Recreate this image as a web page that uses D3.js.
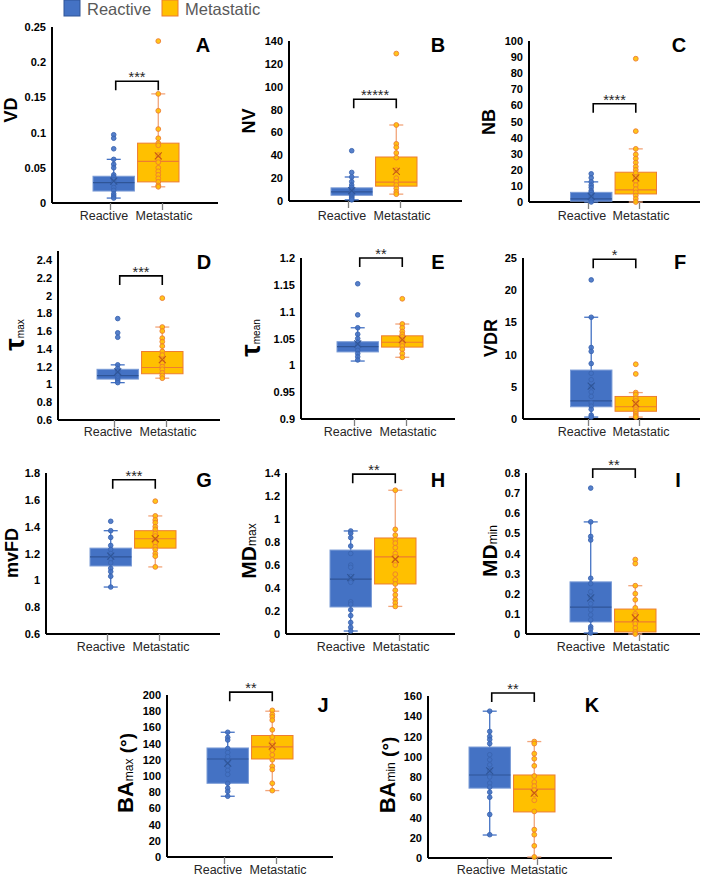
<!DOCTYPE html>
<html><head><meta charset="utf-8">
<script src="https://cdn.jsdelivr.net/npm/d3@7"></script>
<style>body{margin:0;background:#fff}svg{display:block}</style>
</head><body><svg id="c" width="708" height="876"></svg>
<script>
// ---------- DATA ----------
const categories = ["Reactive", "Metastatic"];
const legendLabels = ["Reactive", "Metastatic"];
// stats arrays: [whiskerLow, q1, median, q3, whiskerHigh, mean]
const vdReactiveStats = [0.007, 0.017, 0.029, 0.038, 0.062, 0.031];
const vdMetastaticStats = [0.023, 0.030, 0.059, 0.085, 0.155, 0.067];
const vdReactivePoints = [0.097, 0.092, 0.077, 0.062, 0.055, 0.05, 0.04, 0.037, 0.033, 0.03, 0.027, 0.022, 0.018, 0.013, 0.01, 0.007];
const vdMetastaticPoints = [0.23, 0.155, 0.131, 0.105, 0.092, 0.085, 0.082, 0.068, 0.062, 0.058, 0.05, 0.045, 0.04, 0.035, 0.03, 0.025, 0.023];
const vdTicks = [0, 0.05, 0.1, 0.15, 0.2, 0.25];

const nvReactiveStats = [1, 5, 8, 11.5, 21, 9];
const nvMetastaticStats = [6, 13, 16.5, 38.5, 66.5, 26];
const nvReactivePoints = [44, 25, 21, 17, 14, 12, 10, 9, 8, 7, 6, 5, 4, 3, 2, 1];
const nvMetastaticPoints = [129, 66.5, 50, 47, 42, 38, 27, 20, 17, 14, 11, 8, 6];
const nvTicks = [0, 20, 40, 60, 80, 100, 120, 140];

const nbReactiveStats = [0, 0.5, 2, 6, 12.5, 3.5];
const nbMetastaticStats = [0, 5, 7.5, 18.5, 33, 15];
const nbReactivePoints = [17.5, 15, 12.5, 10.5, 9, 7, 6, 4.5, 3, 2, 1, 0];
const nbMetastaticPoints = [89, 44, 33, 29.5, 27, 24.5, 22, 20, 18, 15.5, 13, 10.5, 8, 6, 4, 2, 0];
const nbTicks = [0, 10, 20, 30, 40, 50, 60, 70, 80, 90, 100];

const tmaxReactiveStats = [1.02, 1.06, 1.1, 1.17, 1.22, 1.14];
const tmaxMetastaticStats = [1.07, 1.12, 1.19, 1.37, 1.645, 1.28];
const tmaxReactivePoints = [1.74, 1.58, 1.53, 1.22, 1.18, 1.15, 1.12, 1.1, 1.08, 1.06, 1.04, 1.02];
const tmaxMetastaticPoints = [1.97, 1.645, 1.6, 1.52, 1.48, 1.43, 1.37, 1.33, 1.28, 1.24, 1.2, 1.17, 1.13, 1.1, 1.07];
const tmaxTicks = [0.6, 0.8, 1, 1.2, 1.4, 1.6, 1.8, 2, 2.2, 2.4];

const tmeanReactiveStats = [1.008, 1.025, 1.035, 1.044, 1.07, 1.04];
const tmeanMetastaticStats = [1.015, 1.034, 1.043, 1.055, 1.077, 1.048];
const tmeanReactivePoints = [1.152, 1.094, 1.07, 1.058, 1.05, 1.043, 1.038, 1.033, 1.028, 1.022, 1.016, 1.01];
const tmeanMetastaticPoints = [1.124, 1.077, 1.07, 1.063, 1.058, 1.053, 1.048, 1.044, 1.04, 1.036, 1.03, 1.022, 1.015];
const tmeanTicks = [0.9, 0.95, 1, 1.05, 1.1, 1.15, 1.2];

const vdrReactiveStats = [0.3, 1.9, 2.8, 7.6, 15.8, 5.1];
const vdrMetastaticStats = [0.3, 1.2, 1.9, 3.5, 4.1, 2.4];
const vdrReactivePoints = [21.6, 15.8, 11.1, 10.5, 8.6, 7.1, 6.1, 5.0, 4.2, 3.5, 2.5, 2.0, 1.5, 0.6, 0.3];
const vdrMetastaticPoints = [8.5, 7.0, 4.1, 3.8, 3.2, 2.8, 2.4, 2.0, 1.7, 1.4, 1.1, 0.8, 0.5, 0.3];
const vdrTicks = [0, 5, 10, 15, 20, 25];

const mvfdReactiveStats = [0.95, 1.107, 1.175, 1.24, 1.37, 1.18];
const mvfdMetastaticStats = [1.1, 1.24, 1.31, 1.37, 1.48, 1.31];
const mvfdReactivePoints = [1.44, 1.37, 1.32, 1.26, 1.23, 1.2, 1.18, 1.16, 1.13, 1.09, 1.065, 1.03, 0.95];
const mvfdMetastaticPoints = [1.59, 1.48, 1.45, 1.43, 1.4, 1.38, 1.35, 1.33, 1.3, 1.28, 1.25, 1.23, 1.2, 1.18, 1.1];
const mvfdTicks = [0.6, 0.8, 1, 1.2, 1.4, 1.6, 1.8];

const mdmaxReactiveStats = [0.026, 0.235, 0.478, 0.73, 0.896, 0.49];
const mdmaxMetastaticStats = [0.24, 0.435, 0.67, 0.835, 1.25, 0.65];
const mdmaxReactivePoints = [0.896, 0.876, 0.838, 0.765, 0.7, 0.6, 0.58, 0.5, 0.47, 0.45, 0.28, 0.26, 0.21, 0.16, 0.1, 0.058, 0.026];
const mdmaxMetastaticPoints = [1.25, 0.91, 0.86, 0.82, 0.79, 0.75, 0.7, 0.67, 0.63, 0.6, 0.52, 0.47, 0.435, 0.38, 0.34, 0.3, 0.27, 0.24];
const mdmaxTicks = [0, 0.2, 0.4, 0.6, 0.8, 1, 1.2, 1.4];

const mdminReactiveStats = [0.005, 0.06, 0.134, 0.259, 0.557, 0.18];
const mdminMetastaticStats = [0, 0.01, 0.06, 0.124, 0.24, 0.08];
const mdminReactivePoints = [0.725, 0.557, 0.485, 0.467, 0.277, 0.25, 0.21, 0.185, 0.15, 0.12, 0.095, 0.07, 0.036, 0.025, 0.005];
const mdminMetastaticPoints = [0.37, 0.35, 0.24, 0.2, 0.17, 0.13, 0.1, 0.09, 0.07, 0.05, 0.03, 0.01, 0];
const mdminTicks = [0, 0.1, 0.2, 0.3, 0.4, 0.5, 0.6, 0.7, 0.8];

const bamaxReactiveStats = [75, 91, 121, 134.6, 154, 116];
const bamaxMetastaticStats = [82, 121, 136, 150, 180, 137];
const bamaxReactivePoints = [154, 147.7, 144.4, 134, 129, 124, 118, 112, 107, 102, 91, 85, 81, 75];
const bamaxMetastaticPoints = [181, 176, 173, 169, 157, 148, 142, 137, 132, 126, 120, 112, 108, 91, 82];
const bamaxTicks = [0, 20, 40, 60, 80, 100, 120, 140, 160, 180, 200];

const baminReactiveStats = [22.7, 69, 82, 109.6, 145, 86];
const baminMetastaticStats = [1, 45.5, 68, 82, 115, 64];
const baminReactivePoints = [145, 125, 120, 117, 113, 102, 97, 92, 86, 80, 74, 70, 65, 60, 43, 23];
const baminMetastaticPoints = [115, 113, 103, 98, 91, 81, 75, 71, 67, 63, 57, 46, 28, 23, 12, 1];
const baminTicks = [0, 20, 40, 60, 80, 100, 120, 140, 160];

const panelLetters = ["A", "B", "C", "D", "E", "F", "G", "H", "I", "J", "K"];
const significance = ["***", "*****", "****", "***", "**", "*", "***", "**", "**", "**", "**"];
const bracketLevels = [0.173, 89, 61, 2.22, 1.2, 24.8, 1.75, 1.39, 0.82, 203.5, 163];
const axisMax = [0.25, 140, 100, 2.5, 1.2, 25, 1.8, 1.4, 0.8, 200, 160];

// ---------- LAYOUT (pixel geometry only) ----------
const layout = [
  {x0: 52,  x1: 218, yB: 203, yT: 27,  tR: 110, tM: 162, ly: 220, lx: 203, lty: 52,  tx: 17,  tyc: 110},
  {x0: 289, x1: 462, yB: 201, yT: 41,  tR: 348, tM: 400, ly: 220, lx: 438, lty: 52,  tx: 255, tyc: 121},
  {x0: 529, x1: 700, yB: 202, yT: 41,  tR: 588, tM: 639, ly: 220, lx: 679, lty: 52,  tx: 495, tyc: 122},
  {x0: 58,  x1: 220, yB: 420, yT: 251, tR: 114, tM: 166, ly: 436, lx: 204, lty: 269, tx: 24,  tyc: 335},
  {x0: 301, x1: 455, yB: 419, yT: 258, tR: 354, tM: 406, ly: 436, lx: 438, lty: 269, tx: 260, tyc: 338},
  {x0: 523, x1: 700, yB: 419, yT: 258, tR: 588, tM: 639, ly: 436, lx: 680, lty: 269, tx: 497, tyc: 338},
  {x0: 46,  x1: 220, yB: 634, yT: 473, tR: 107, tM: 159, ly: 651, lx: 204, lty: 487, tx: 18,  tyc: 553},
  {x0: 286, x1: 455, yB: 634, yT: 473, tR: 347, tM: 399, ly: 651, lx: 438, lty: 487, tx: 256, tyc: 551},
  {x0: 526, x1: 700, yB: 634, yT: 473, tR: 587, tM: 639, ly: 651, lx: 678, lty: 487, tx: 497, tyc: 551},
  {x0: 167, x1: 333, yB: 857, yT: 695, tR: 224, tM: 276, ly: 874, lx: 323, lty: 712, tx: 133, tyc: 773},
  {x0: 428, x1: 612, yB: 858, yT: 696, tR: 487, tM: 537, ly: 874, lx: 592, lty: 712, tx: 395, tyc: 775}
];

const titles = [
  [{t: "VD", s: 18, b: 1}],
  [{t: "NV", s: 18, b: 1}],
  [{t: "NB", s: 18, b: 1}],
  [{t: "τ", s: 28, b: 1}, {t: "max", s: 10, b: 0}],
  [{t: "τ", s: 28, b: 1}, {t: "mean", s: 10, b: 0}],
  [{t: "VDR", s: 18, b: 1}],
  [{t: "mvFD", s: 18, b: 1}],
  [{t: "MD", s: 21, b: 1}, {t: "max", s: 12, b: 0}],
  [{t: "MD", s: 21, b: 1}, {t: "min", s: 12, b: 0}],
  [{t: "BA", s: 22, b: 1}, {t: "max", s: 12, b: 0}, {t: " (°)", s: 19, b: 1}],
  [{t: "BA", s: 22, b: 1}, {t: "min", s: 12, b: 0}, {t: " (°)", s: 19, b: 1}]
];

const statsList = [
  [vdReactiveStats, vdMetastaticStats], [nvReactiveStats, nvMetastaticStats], [nbReactiveStats, nbMetastaticStats],
  [tmaxReactiveStats, tmaxMetastaticStats], [tmeanReactiveStats, tmeanMetastaticStats], [vdrReactiveStats, vdrMetastaticStats],
  [mvfdReactiveStats, mvfdMetastaticStats], [mdmaxReactiveStats, mdmaxMetastaticStats], [mdminReactiveStats, mdminMetastaticStats],
  [bamaxReactiveStats, bamaxMetastaticStats], [baminReactiveStats, baminMetastaticStats]
];
const pointsList = [
  [vdReactivePoints, vdMetastaticPoints], [nvReactivePoints, nvMetastaticPoints], [nbReactivePoints, nbMetastaticPoints],
  [tmaxReactivePoints, tmaxMetastaticPoints], [tmeanReactivePoints, tmeanMetastaticPoints], [vdrReactivePoints, vdrMetastaticPoints],
  [mvfdReactivePoints, mvfdMetastaticPoints], [mdmaxReactivePoints, mdmaxMetastaticPoints], [mdminReactivePoints, mdminMetastaticPoints],
  [bamaxReactivePoints, bamaxMetastaticPoints], [baminReactivePoints, baminMetastaticPoints]
];
const ticksList = [vdTicks, nvTicks, nbTicks, tmaxTicks, tmeanTicks, vdrTicks, mvfdTicks, mdmaxTicks, mdminTicks, bamaxTicks, baminTicks];

const style = {
  Reactive:   {fill: "#4472C4", stroke: "#7A9BD6", median: "#2F5597", whisker: "#4472C4", pt: "#4472C4", ptStroke: "#3A64B0"},
  Metastatic: {fill: "#FFC000", stroke: "#ED7D31", median: "#ED7D31", whisker: "#F2A57A", pt: "#FFC000", ptStroke: "#ED7D31"}
};
const FONT = "'Liberation Sans', Arial, sans-serif";

const svg = d3.select("#c").attr("font-family", FONT);

// Legend
const legend = svg.append("g");
const legX = [64, 162];
legendLabels.forEach((lab, i) => {
  const st = style[categories[i]];
  legend.append("rect").attr("x", legX[i]).attr("y", 0).attr("width", 16).attr("height", 16)
    .attr("fill", st.fill).attr("stroke", i ? "#ED7D31" : "#2F5597").attr("stroke-width", 1);
  legend.append("text").attr("x", legX[i] + 23).attr("y", 15).attr("font-size", 16.5)
    .attr("fill", "#595959").text(lab);
});

panelLetters.forEach((letter, p) => {
  const L = layout[p];
  const ticks = ticksList[p];
  const g = svg.append("g");
  const y = d3.scaleLinear().domain([ticks[0], axisMax[p]]).range([L.yB, L.yT]);
  const xCat = d3.scalePoint().domain(categories).range([L.tR, L.tM]);
  const mid = (L.tR + L.tM) / 2;
  const xBox = d3.scaleBand().domain(categories).range([mid - 43, mid + 43]).paddingInner(0.07);
  const bw = xBox.bandwidth();

  // y axis ticks labels
  const yAxis = d3.axisLeft(y).tickValues(ticks).tickSize(0).tickPadding(6).tickFormat(d3.format("~g"));
  const ya = g.append("g").attr("transform", `translate(${L.x0},0)`).call(yAxis);
  ya.select(".domain").remove();
  ya.selectAll("text").attr("font-family", FONT).attr("font-size", 11).attr("font-weight", "bold").attr("fill", "#000");

  // axis lines
  g.append("line").attr("x1", L.x0).attr("x2", L.x0).attr("y1", y.range()[1]).attr("y2", L.yB)
    .attr("stroke", "#000").attr("stroke-width", 2);
  g.append("line").attr("x1", L.x0).attr("x2", L.x1).attr("y1", L.yB).attr("y2", L.yB)
    .attr("stroke", "#000").attr("stroke-width", 2);

  // category ticks
  const xa = g.append("g").attr("transform", `translate(0,${L.yB})`)
    .call(d3.axisBottom(xCat).tickSize(7).tickFormat(""));
  xa.select(".domain").remove();
  xa.selectAll("line").attr("stroke", "#7f7f7f").attr("stroke-width", 1.3);
  categories.forEach((c, i) => {
    g.append("text").attr("x", xCat(c) + (i ? 2 : -6)).attr("y", L.ly).attr("text-anchor", "middle")
      .attr("font-size", 12.5).attr("fill", "#262626").text(c);
  });

  // boxes
  categories.forEach((c, i) => {
    const st = style[c];
    const [wl, q1, med, q3, wh, mean] = statsList[p][i];
    const cx = xBox(c) + bw / 2;
    const bg = g.append("g");
    bg.append("line").attr("x1", cx).attr("x2", cx).attr("y1", y(wl)).attr("y2", y(wh))
      .attr("stroke", st.whisker).attr("stroke-width", 1.3);
    [wl, wh].forEach(v => bg.append("line").attr("x1", cx - 7).attr("x2", cx + 7).attr("y1", y(v)).attr("y2", y(v))
      .attr("stroke", st.whisker).attr("stroke-width", 1.3));
    bg.append("rect").attr("x", xBox(c)).attr("y", y(q3)).attr("width", bw).attr("height", Math.max(0.5, y(q1) - y(q3)))
      .attr("fill", st.fill).attr("stroke", st.stroke).attr("stroke-width", 1);
    bg.append("line").attr("x1", xBox(c)).attr("x2", xBox(c) + bw).attr("y1", y(med)).attr("y2", y(med))
      .attr("stroke", st.median).attr("stroke-width", 1.2);
    bg.selectAll("circle.pt").data(pointsList[p][i]).enter().append("circle")
      .attr("cx", cx).attr("cy", d => y(d)).attr("r", i ? 2.4 : 2.3)
      .attr("fill", st.pt).attr("stroke", st.ptStroke).attr("stroke-width", 0.9).attr("fill-opacity", 0.9);
    const my = y(mean);
    bg.append("path").attr("d", `M${cx - 3.5},${my - 3.5}L${cx + 3.5},${my + 3.5}M${cx - 3.5},${my + 3.5}L${cx + 3.5},${my - 3.5}`)
      .attr("stroke", i ? "#C55A11" : "#2F5597").attr("stroke-width", 1.1).attr("fill", "none");
  });

  // significance bracket
  const bx1 = xBox(categories[0]) + bw / 2 + 2, bx2 = xBox(categories[1]) + bw / 2;
  const by = y(bracketLevels[p]);
  g.append("path").attr("d", `M${bx1},${by + 9}V${by}H${bx2}V${by + 9}`)
    .attr("fill", "none").attr("stroke", "#000").attr("stroke-width", 1.6);
  g.append("text").attr("x", (bx1 + bx2) / 2).attr("y", by + 1).attr("text-anchor", "middle")
    .attr("font-size", 14.5).attr("fill", "#262626").text(significance[p]);

  // panel letter
  g.append("text").attr("x", L.lx).attr("y", L.lty).attr("text-anchor", "middle")
    .attr("font-size", 20).attr("font-weight", "bold").attr("fill", "#000").text(letter);

  // y title
  const t = g.append("text").attr("transform", `translate(${L.tx},${L.tyc}) rotate(-90)`)
    .attr("text-anchor", "middle").attr("fill", "#000");
  titles[p].forEach(part => {
    t.append("tspan").attr("font-size", part.s).attr("font-weight", part.b ? "bold" : "normal").text(part.t);
  });
});
</script></body></html>
